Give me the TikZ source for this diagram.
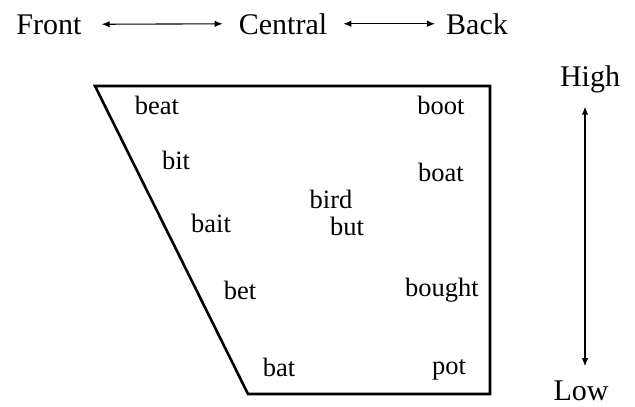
\documentclass[tikz,border=0pt]{standalone}
\usepackage{fontspec}
\setmainfont{Liberation Serif}
\usepackage{tikz}
\usetikzlibrary{arrows.meta}

\tikzset{
  dirlabel/.style={inner sep=0pt,anchor=base,font=\fontsize{30}{36}\selectfont},
  vowel/.style={inner sep=0pt,anchor=base,font=\fontsize{26.5}{32}\selectfont},
  dirarrow/.style={{Latex[length=8pt,width=6.5pt]}-{Latex[length=8pt,width=6.5pt]},line width=1.1pt}
}

\begin{document}
\begin{tikzpicture}[x=1pt,y=-1pt]
  \useasboundingbox (0,0) rectangle (635,407);
  % axis labels
  \node[dirlabel] (front) at (49,34) {Front};
  \node[dirlabel] (central) at (283,34) {Central};
  \node[dirlabel] (back) at (477,34) {Back};
  \node[dirlabel] (high) at (590,86) {High};
  \node[dirlabel] (low) at (581,400) {Low};
  \draw[dirarrow,shorten <=20pt,shorten >=16pt] (front.east) -- (central.west);
  \draw[dirarrow,shorten <=16pt,shorten >=11pt] (central.east) -- (back.west);
  \draw[dirarrow,shorten <=14pt,shorten >=14pt] ([xshift=-5pt]high.south) -- ([xshift=4pt]low.north);
  % vowel space
  \draw[line width=2.6pt,line join=miter] (95,86) -- (490,86) -- (490,394) -- (248,394) -- cycle;
  \node[vowel] (beat) at (157,114) {beat};
  \node[vowel] (boot) at (441,114) {boot};
  \node[vowel] (bit) at (176,169) {bit};
  \node[vowel] (boat) at (441,181) {boat};
  \node[vowel] (bird) at (331,208) {bird};
  \node[vowel] (but) at (347,235) {but};
  \node[vowel] (bait) at (211,232) {bait};
  \node[vowel] (bet) at (240,299) {bet};
  \node[vowel] (bought) at (442,296) {bought};
  \node[vowel] (bat) at (279,376) {bat};
  \node[vowel] (pot) at (449,374) {pot};
\end{tikzpicture}
\end{document}
